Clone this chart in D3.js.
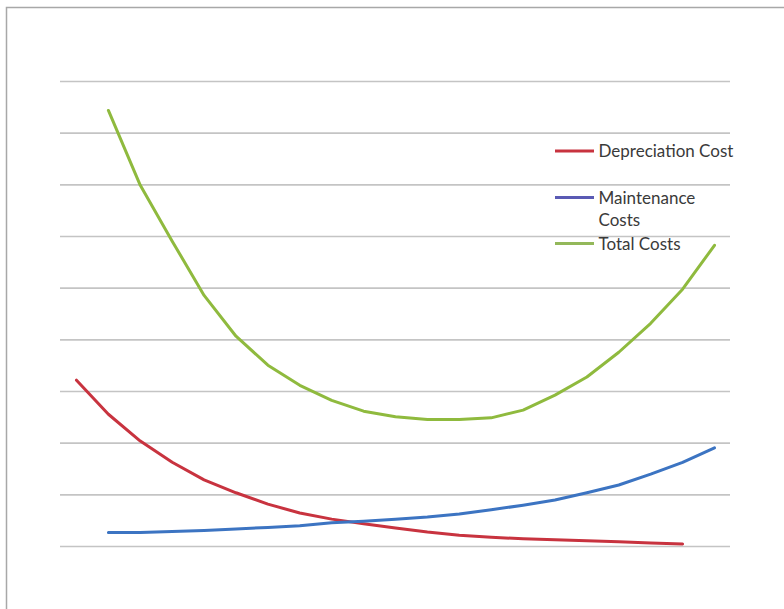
<!DOCTYPE html>
<html>
<head>
<meta charset="utf-8">
<script src="https://cdn.jsdelivr.net/npm/d3@7"></script>
<style>
  html, body { margin: 0; padding: 0; background: #ffffff; }
  svg { display: block; }
  .legend text { font-family: Lato, "Open Sans", sans-serif; font-size: 17px; fill: #3a3a3a; }
</style>
</head>
<body>
<svg id="chart" width="784" height="609"></svg>
<script>
// Period index (years of ownership); depreciation is plotted one period earlier
const periods = [0, 1, 2, 3, 4, 5, 6, 7, 8, 9, 10, 11, 12, 13, 14, 15, 16, 17, 18, 19, 20];
const depreciationPeriods = [0, 1, 2, 3, 4, 5, 6, 7, 8, 9, 10, 11, 12, 13, 14, 15, 16, 17, 18, 19];
const costPeriods = [1, 2, 3, 4, 5, 6, 7, 8, 9, 10, 11, 12, 13, 14, 15, 16, 17, 18, 19, 20];

const depreciationCost = [32.1, 25.5, 20.3, 16.2, 12.8, 10.3, 8.1, 6.4, 5.2, 4.3,
                          3.5, 2.7, 2.1, 1.7, 1.4, 1.2, 1.0, 0.8, 0.6, 0.4];
const maintenanceCosts = [2.6, 2.6, 2.8, 3.0, 3.3, 3.6, 3.9, 4.5, 4.8, 5.2,
                          5.6, 6.2, 7.0, 7.9, 8.9, 10.3, 11.8, 13.9, 16.2, 19.0];
const totalCosts = [84.3, 69.8, 59.0, 48.5, 40.6, 35.0, 31.1, 28.2, 26.1, 25.0,
                    24.5, 24.5, 24.8, 26.3, 29.2, 32.7, 37.5, 43.1, 49.7, 58.2];

const gridValues = [0, 10, 20, 30, 40, 50, 60, 70, 80, 90];

const seriesNames = ["Depreciation Cost", "Maintenance Costs", "Total Costs"];

const svg = d3.select("#chart");

// outer frame of the chart area
svg.append("rect")
  .attr("x", 6.5).attr("y", 7.5)
  .attr("width", 800).attr("height", 620)
  .attr("fill", "#ffffff")
  .attr("stroke", "#a8a8a8")
  .attr("stroke-width", 1.5);

const x = d3.scalePoint().domain(periods).range([76.5, 714.5]);
const y = d3.scaleLinear().domain([0, 90]).range([546, 81]);

// horizontal gridlines
const grid = svg.append("g")
  .attr("transform", "translate(60,0)")
  .call(d3.axisLeft(y).tickValues(gridValues).tickSize(-670).tickFormat(""));
grid.select(".domain").remove();
grid.selectAll(".tick line")
  .attr("stroke", "#c4c4c4")
  .attr("stroke-width", 1.6);

const line = d3.line()
  .x(d => x(d[0]))
  .y(d => y(d[1]));

const series = [
  { name: seriesNames[0], xs: depreciationPeriods, ys: depreciationCost, color: "#c8333f" },
  { name: seriesNames[1], xs: costPeriods, ys: maintenanceCosts, color: "#3c74c2" },
  { name: seriesNames[2], xs: costPeriods, ys: totalCosts, color: "#8fba3e" }
];

svg.append("g").selectAll("path")
  .data(series)
  .join("path")
  .attr("d", s => line(d3.zip(s.xs, s.ys)))
  .attr("fill", "none")
  .attr("stroke", s => s.color)
  .attr("stroke-width", 3)
  .attr("stroke-linejoin", "round")
  .attr("stroke-linecap", "round");

// legend
const legend = svg.append("g").attr("class", "legend");
const legendItems = [
  { lines: ["Depreciation Cost"], y: 151, color: "#c8333f" },
  { lines: ["Maintenance", "Costs"], y: 197.5, color: "#5a5ab4" },
  { lines: ["Total Costs"], y: 243.5, color: "#93b85a" }
];
legendItems.forEach(item => {
  legend.append("line")
    .attr("x1", 555).attr("x2", 594)
    .attr("y1", item.y).attr("y2", item.y)
    .attr("stroke", item.color)
    .attr("stroke-width", 3);
  const t = legend.append("text")
    .attr("x", 598.5)
    .attr("y", item.y + 6);
  item.lines.forEach((ln, i) => {
    t.append("tspan")
      .attr("x", 598.5)
      .attr("dy", i === 0 ? 0 : 22)
      .text(ln);
  });
});
</script>
</body>
</html>
